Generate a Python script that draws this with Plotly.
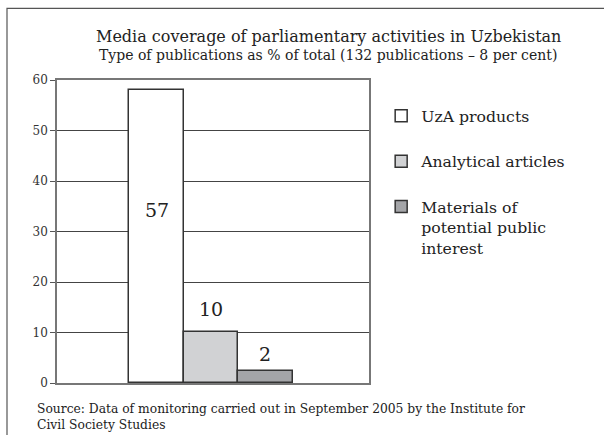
import plotly.graph_objects as go

series_names = ["UzA products", "Analytical articles", "Materials of<br>potential public<br>interest"]
values = [58, 10.1, 2.3]
value_labels = ["57", "10", "2"]
label_y = [34.2, 14.6, 5.8]
fills = ["#ffffff", "#d1d2d4", "#a4a5a8"]
y_ticks = [0, 10, 20, 30, 40, 50, 60]

title = "Media coverage of parliamentary activities in Uzbekistan"
subtitle = "Type of publications as % of total (132 publications – 8 per cent)"
source = "Source: Data of monitoring carried out in September 2005 by the Institute for<br>Civil Society Studies"

FONT = "DejaVu Serif"
PL, PR, PT, PB = 57, 369, 80, 382.5


def px(x):
    return (x - PL) / (PR - PL)


def py(y):
    return (PB - y) / (PB - PT)


fig = go.Figure()
for i, (name, v, c) in enumerate(zip(series_names, values, fills)):
    fig.add_trace(go.Bar(
        x=[i], y=[v], name=name, width=1,
        marker=dict(color=c, line=dict(color="#333333", width=1.5)),
        legendgroup=f"g{i}",
    ))

for i, (t, ly) in enumerate(zip(value_labels, label_y)):
    fig.add_annotation(x=i, y=ly, text=t, showarrow=False,
                       font=dict(family=FONT, size=19, color="#222"))

fig.add_annotation(xref="paper", yref="paper", x=px(328), y=py(37),
                   xanchor="center", yanchor="middle", text=title, showarrow=False,
                   font=dict(family=FONT, size=16, color="#222"))
fig.add_annotation(xref="paper", yref="paper", x=px(328), y=py(55),
                   xanchor="center", yanchor="middle", text=subtitle, showarrow=False,
                   font=dict(family=FONT, size=14, color="#222"))

fig.add_annotation(xref="paper", yref="paper", x=px(35), y=py(399),
                   xanchor="left", yanchor="top", align="left",
                   text=source, showarrow=False,
                   font=dict(family=FONT, size=12.3, color="#222"))

# outer frame (left and top edges)
fig.add_shape(type="path", xref="paper", yref="paper",
              path=f"M {px(7)},{py(445)} L {px(7)},{py(8.5)} L {px(620)},{py(8.5)}",
              line=dict(color="#555555", width=1.2))

fig.update_layout(
    width=604, height=435,
    margin=dict(l=57, r=235, t=80, b=52),
    paper_bgcolor="white", plot_bgcolor="white",
    font=dict(family=FONT, color="#222"),
    showlegend=True,
    legend=dict(x=1.039, y=0.937, xanchor="left", yanchor="top", valign="top",
                font=dict(family=FONT, size=15.7, color="#222"),
                tracegroupgap=22, itemwidth=30, bgcolor="rgba(0,0,0,0)"),
    bargap=0, barmode="overlay",
    xaxis=dict(range=[-1.833, 3.907], showticklabels=False, ticks="",
               showgrid=False, zeroline=False, showline=True,
               linecolor="#777", linewidth=1.5, mirror=True),
    yaxis=dict(range=[0, 60], tickvals=y_ticks, ticks="outside", ticklen=5,
               tickcolor="#555", showgrid=True, gridcolor="#444", gridwidth=1,
               zeroline=False, showline=True, linecolor="#777", linewidth=1.5,
               mirror=True, tickfont=dict(family=FONT, size=12, color="#333")),
)

fig.write_html("out.html", post_script="document.body.style.margin='0';",
               config={"displayModeBar": False})
